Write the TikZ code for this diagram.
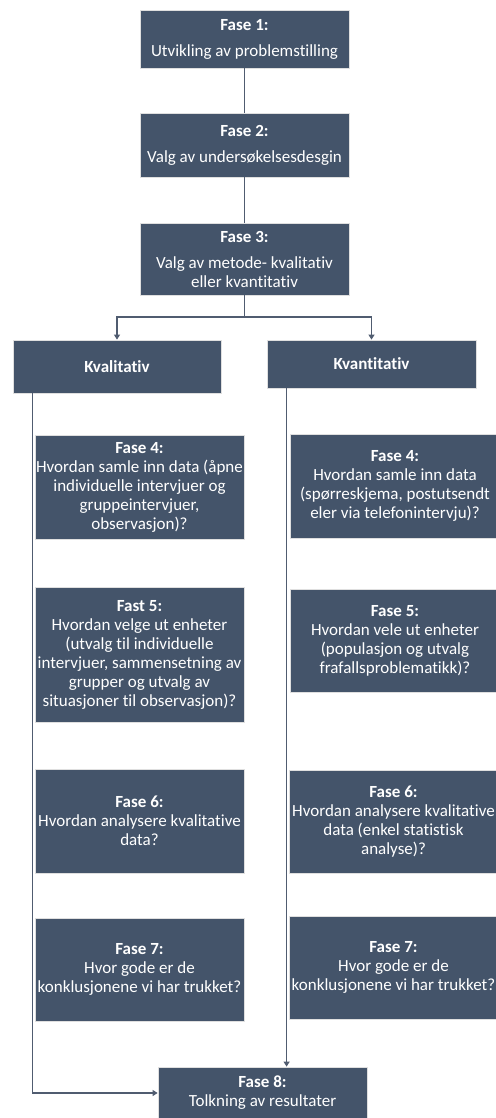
\documentclass[tikz,border=0pt]{standalone}
\usepackage{fontspec}
\setmainfont[Ligatures=NoCommon]{Carlito}
\usetikzlibrary{arrows.meta}
\definecolor{slate}{RGB}{68,84,106}
\definecolor{lin}{RGB}{80,92,112}
\begin{document}
\begin{tikzpicture}[x=1pt,y=-1pt,
  pbox/.style={fill=slate,draw=gray!25,line width=0.8pt,text=white,align=center,
    minimum width=209pt,inner sep=0pt,font=\fontsize{17}{19}\selectfont},
  conn/.style={draw=lin,line width=1.1pt},
  arr/.style={conn,-{Triangle[length=5pt,width=6pt]}}]
\useasboundingbox (0,0) rectangle (495,1118);
\fill[white] (0,0) rectangle (495,1118);
% top
\node[pbox,minimum height=58pt] (b1) at (244.5,39) {\textbf{Fase 1:}\\[7pt]Utvikling av problemstilling};
\node[pbox,minimum height=64pt] (b2) at (244.5,145) {\textbf{Fase 2:}\\[7pt]Valg av undersøkelsesdesgin};
\node[pbox,minimum height=72pt] (b3) at (244.5,259) {\textbf{Fase 3:}\\[7pt]Valg av metode- kvalitativ\\eller kvantitativ};
\node[pbox,minimum width=208pt,minimum height=53pt] (kl) at (117,366.5) {\textbf{Kvalitativ}};
\node[pbox,minimum height=48pt] (kn) at (371.5,364) {\textbf{Kvantitativ}};
\node[pbox,minimum height=52pt] (f8) at (262.5,1093) {\textbf{Fase 8:}\\Tolkning av resultater};
% connectors (behind boxes of the columns)
\draw[conn] (b1.south) -- (b2.north);
\draw[conn] (b2.south) -- (b3.north);
\coordinate (lk) at (117,317);
\coordinate (rk) at (371.5,317);
\draw[conn] (b3.south) -- (b3.south |- lk);
\draw[arr] (b3.south |- lk) -- (lk) -- (kl.north);
\draw[arr] (b3.south |- rk) -- (rk) -- (kn.north);
\coordinate (ls) at ([xshift=20pt]kl.south west);
\coordinate (rs) at ([xshift=20pt]kn.south west);
\draw[arr] (ls) |- (f8.west);
\draw[arr] (rs) -- (rs |- f8.north);
% left column
\node[pbox,minimum height=104pt] (l4) at (139.5,487) {\textbf{Fase 4:}\\Hvordan samle inn data (åpne\\individuelle intervjuer og\\gruppeintervjuer,\\observasjon)?};
\node[pbox,minimum height=135pt] (l5) at (139.5,654.5) {\textbf{Fast 5:}\\Hvordan velge ut enheter\\(utvalg til individuelle\\intervjuer, sammensetning av\\grupper og utvalg av\\situasjoner til observasjon)?};
\node[pbox,minimum height=104pt] (l6) at (139.5,821) {\textbf{Fase 6:}\\Hvordan analysere kvalitative\\data?};
\node[pbox,minimum height=103pt] (l7) at (139.5,969.5) {\textbf{Fase 7:}\\Hvor gode er de\\konklusjonene vi har trukket?};
% right column
\node[pbox,minimum height=104pt] (r4) at (395,486) {\textbf{Fase 4:}\\Hvordan samle inn data\\(spørreskjema, postutsendt\\eler via telefonintervju)?};
\node[pbox,minimum height=103pt] (r5) at (395,640.5) {\textbf{Fase 5:}\\Hvordan vele ut enheter\\(populasjon og utvalg\\frafallsproblematikk)?};
\node[pbox,minimum height=103pt] (r6) at (393.5,821.5) {\textbf{Fase 6:}\\Hvordan analysere kvalitative\\data (enkel statistisk\\analyse)?};
\node[pbox,minimum height=103pt] (r7) at (393.5,967.5) {\textbf{Fase 7:}\\Hvor gode er de\\konklusjonene vi har trukket?};
\end{tikzpicture}
\end{document}
